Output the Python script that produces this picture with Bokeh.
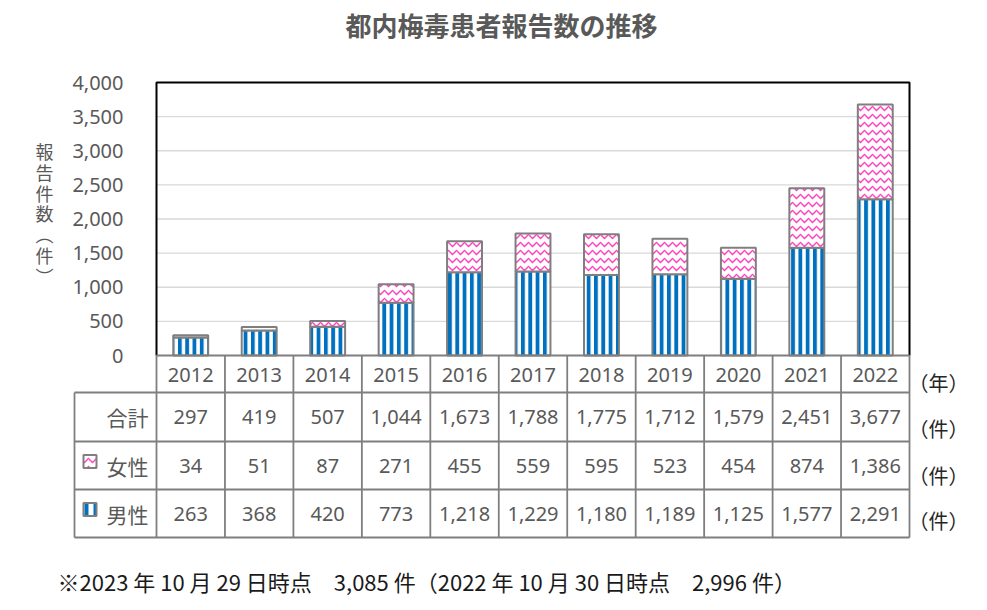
from bokeh.plotting import figure
from bokeh.models import Range1d, LinearAxis, FixedTicker, NumeralTickFormatter, ColumnDataSource
from bokeh.core.properties import value
from bokeh.embed import file_html
from bokeh.resources import INLINE

# ---------------- data ----------------
years = ["2012", "2013", "2014", "2015", "2016", "2017", "2018", "2019", "2020", "2021", "2022"]
total = [297, 419, 507, 1044, 1673, 1788, 1775, 1712, 1579, 2451, 3677]
female = [34, 51, 87, 271, 455, 559, 595, 523, 454, 874, 1386]
male = [263, 368, 420, 773, 1218, 1229, 1180, 1189, 1125, 1577, 2291]
y_ticks = [0, 500, 1000, 1500, 2000, 2500, 3000, 3500, 4000]
row_labels = ["合計", "女性", "男性"]
title_text = "都内梅毒患者報告数の推移"
ylabel_text = "報告件数（件）"
year_unit = "（年）"
count_unit = "（件）"
footnote = "※2023 年 10 月 29 日時点　3,085 件（2022 年 10 月 30 日時点　2,996 件）"

# ---------------- layout geometry (page pixels) ----------------
W, H = 975, 600
PX0, PY0 = 0, 0
plot_left, plot_right, plot_top, plot_bottom = 156, 909, 82, 355
tbl_left = 74
row_lines = [392, 441, 489, 537]
row_centers = [416, 465, 513]
ymax = y_ticks[-1]
n = len(years)
col_w = (plot_right - plot_left) / n
x0 = -0.5 - (plot_left - PX0) / col_w
x1 = n - 0.5 + (PX0 + W - plot_right) / col_w
upp = ymax / (plot_bottom - plot_top)
y0 = -(PY0 + H - plot_bottom) * upp
y1 = ymax + (plot_top - PY0) * upp

GRAY_TXT = "#595959"
LINE_GRAY = "#7F7F7F"
BLUE = "#0070C0"
PINK = "#FF3FBF"
NUM_FONT = value("Noto Sans")
CJK_FONT = value("Noto Sans CJK JP")

p = figure(width=W, height=H, x_range=Range1d(x0, x1), y_range=Range1d(y0, y1),
           x_axis_type=None, y_axis_type=None, output_backend="svg",
           toolbar_location=None, min_border=0, outline_line_color=None,
           background_fill_color="white", border_fill_color="white")
p.extra_x_ranges = {"px": Range1d(PX0, PX0 + W)}
p.extra_y_ranges = {"px": Range1d(PY0 + H, PY0)}

xs = list(range(n))
tbl_left_x = -0.5 + (tbl_left - plot_left) / col_w

# gridlines
grid_vals = y_ticks[1:-1]
p.segment(x0=[-0.5] * len(grid_vals), x1=[n - 0.5] * len(grid_vals), y0=grid_vals, y1=grid_vals,
          line_color="#D9D9D9", line_width=1.4)

# bars
stack_top = [m + f for m, f in zip(male, female)]
src = ColumnDataSource(dict(x=xs, male=male, top=stack_top))
p.vbar(x="x", width=0.51, bottom=0, top="male", source=src, fill_color="white",
       hatch_pattern="vertical_line", hatch_color=BLUE, hatch_scale=7.3, hatch_weight=3.8,
       line_color=LINE_GRAY, line_width=2)
p.vbar(x="x", width=0.51, bottom="male", top="top", source=src, fill_color="white",
       hatch_pattern="horizontal_wave", hatch_color=PINK, hatch_scale=8, hatch_weight=1.4,
       line_color=LINE_GRAY, line_width=2)

# plot frame (black left/top/right)
p.line(x=[-0.5, -0.5, n - 0.5, n - 0.5], y=[0, ymax, ymax, 0], line_color="black", line_width=2)

# table lines
col_edges = [i - 0.5 for i in range(n + 1)]
p.segment(x0=col_edges, x1=col_edges, y0=[plot_bottom] * len(col_edges), y1=[row_lines[-1]] * len(col_edges),
          y_range_name="px", line_color=LINE_GRAY, line_width=1.8)
p.segment(x0=[-0.5], x1=[n - 0.5], y0=[plot_bottom], y1=[plot_bottom], y_range_name="px",
          line_color=LINE_GRAY, line_width=1.8)
p.segment(x0=[tbl_left_x] * len(row_lines), x1=[n - 0.5] * len(row_lines), y0=row_lines, y1=row_lines,
          y_range_name="px", line_color=LINE_GRAY, line_width=1.8)
p.segment(x0=[tbl_left_x], x1=[tbl_left_x], y0=[row_lines[0]], y1=[row_lines[-1]], y_range_name="px",
          line_color=LINE_GRAY, line_width=1.8)

# axes
xaxis = LinearAxis(fixed_location=0, ticker=FixedTicker(ticks=xs),
                   major_label_overrides={i: y for i, y in enumerate(years)},
                   axis_line_color=None, major_tick_line_color=None, minor_tick_line_color=None,
                   major_label_standoff=6, major_label_text_font_size="20px",
                   major_label_text_color=GRAY_TXT, major_label_text_font="Noto Sans")
p.add_layout(xaxis, "below")
yaxis = LinearAxis(fixed_location=-0.5, ticker=FixedTicker(ticks=y_ticks),
                   formatter=NumeralTickFormatter(format="0,0"),
                   axis_line_color=None, major_tick_line_color=None, minor_tick_line_color=None,
                   major_label_standoff=27, major_label_text_font_size="20px",
                   major_label_text_color=GRAY_TXT, major_label_text_font="Noto Sans")
p.add_layout(yaxis, "left")

# table values
for vals, yc in zip([total, female, male], row_centers):
    p.text(x=xs, y=[yc] * n, text=[f"{v:,}" for v in vals], y_range_name="px",
           text_font=NUM_FONT, text_font_size="20px", text_color=GRAY_TXT,
           text_align="center", text_baseline="middle")

# row labels
p.text(x=[148] * 3, y=row_centers, text=row_labels, x_range_name="px", y_range_name="px",
       text_font=CJK_FONT, text_font_size="21px", text_color=GRAY_TXT,
       text_align="right", text_baseline="middle")

# legend swatches
p.rect(x=[89.5], y=[row_centers[1] - 4], width=13, height=13, x_range_name="px", y_range_name="px",
       fill_color="white", hatch_pattern="horizontal_wave", hatch_color=PINK, hatch_scale=8,
       hatch_weight=1.3, line_color=LINE_GRAY, line_width=2)
p.rect(x=[89.5], y=[row_centers[2] - 4], width=13, height=13, x_range_name="px", y_range_name="px",
       fill_color="white", hatch_pattern="vertical_line", hatch_color=BLUE, hatch_scale=9,
       hatch_weight=4, line_color=LINE_GRAY, line_width=2)

# unit labels
p.text(x=[938] * 4, y=[382, 428, 475, 520], text=[year_unit] + [count_unit] * 3,
       x_range_name="px", y_range_name="px", text_font=CJK_FONT, text_font_size="20px",
       text_color="#262626", text_align="center", text_baseline="middle")

# title
p.text(x=[501], y=[24], text=[title_text], x_range_name="px", y_range_name="px",
       text_font=CJK_FONT, text_font_size="26px", text_font_style="bold", text_color=GRAY_TXT,
       text_align="center", text_baseline="middle")

# y-axis label (vertical)
vert = "\n".join(ylabel_text.replace("（", "︵").replace("）", "︶"))
p.text(x=[44], y=[213], text=[vert], x_range_name="px", y_range_name="px",
       text_font=CJK_FONT, text_font_size="18px", text_color=GRAY_TXT, text_line_height=0.8,
       text_align="center", text_baseline="middle")

# footnote
p.text(x=[57], y=[580], text=[footnote], x_range_name="px", y_range_name="px",
       text_font=CJK_FONT, text_font_size="22px", text_color="#1A1A1A",
       text_align="left", text_baseline="middle")

open("out.html", "w").write(file_html(p, INLINE))
